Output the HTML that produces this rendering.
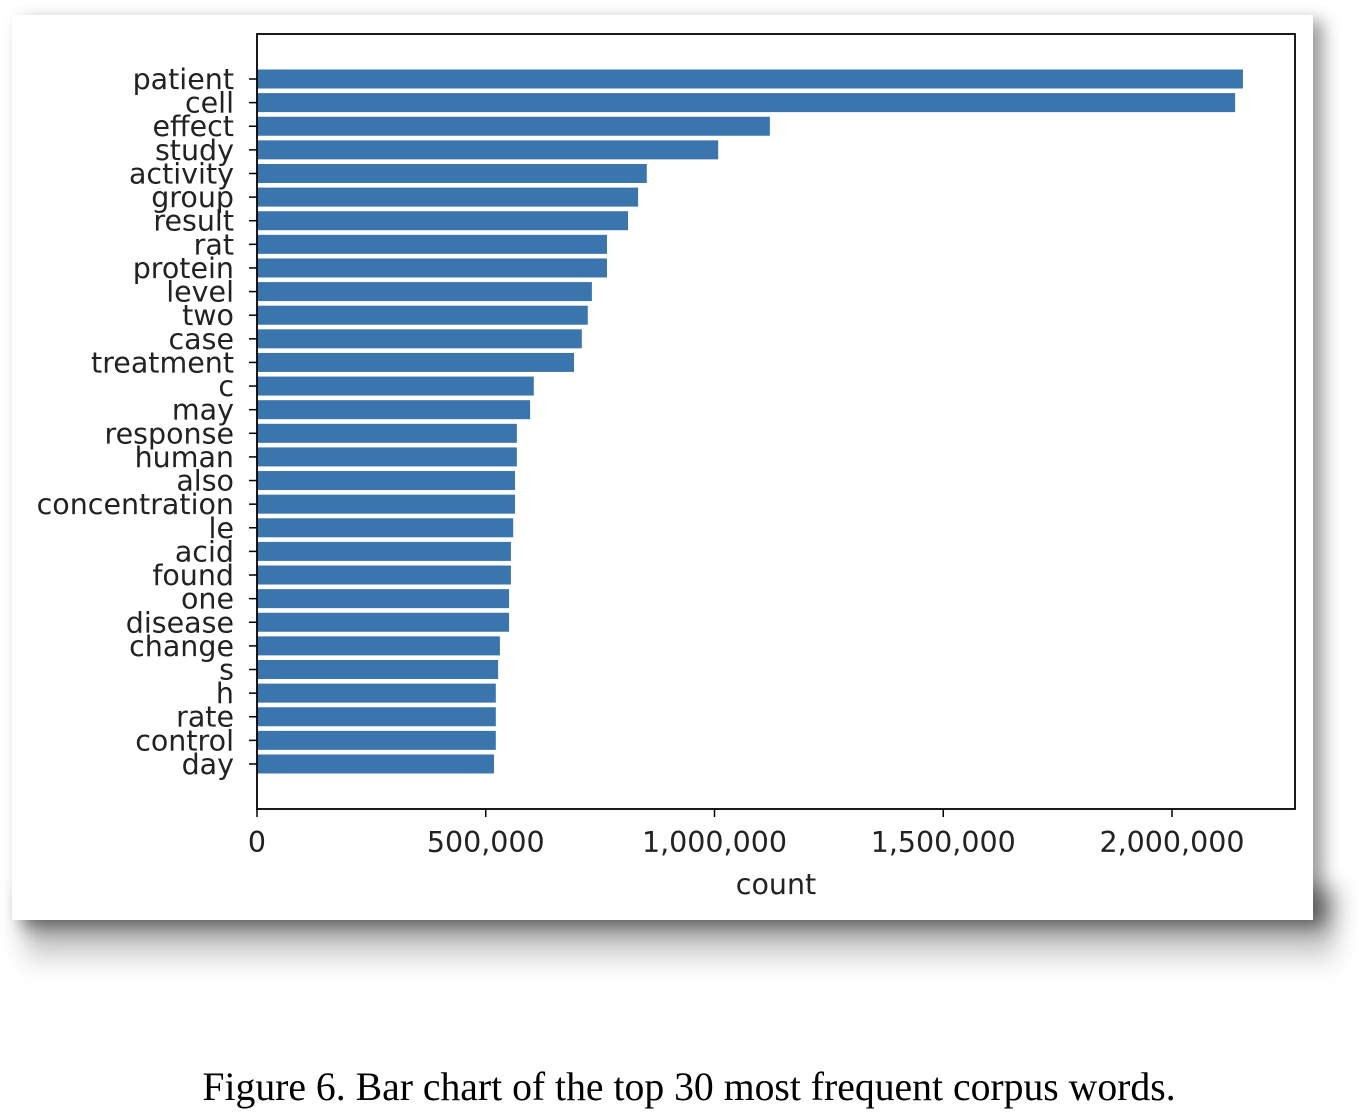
<!DOCTYPE html>
<html><head><meta charset="utf-8"><style>
body{margin:0;width:1360px;height:1118px;background:#fff;position:relative;overflow:hidden}
#shadow{position:absolute;left:25px;top:890px;width:1310px;height:80px;background:linear-gradient(#777,#aaa 45%,#fff);filter:blur(12px)}
#card{position:absolute;left:12px;top:15px;width:1301px;height:905px;background:#fff;box-shadow:10px 6px 16px rgba(0,0,0,0.4)}
svg{position:absolute;left:0;top:0}
#cap{position:absolute;left:0;width:1378px;top:1064px;text-align:center;font-family:"Liberation Serif",serif;font-size:39.7px;color:#000}
</style></head><body>
<div id="shadow"></div>
<div id="card"></div>
<svg id="chart" width="1360" height="1118"></svg>
<div id="cap">Figure 6. Bar chart of the top 30 most frequent corpus words.</div>
<script>
const categories=["patient","cell","effect","study","activity","group","result","rat","protein","level","two","case","treatment","c","may","response","human","also","concentration","le","acid","found","one","disease","change","s","h","rate","control","day"];
const counts=[2155000,2138000,1121000,1008000,852000,833000,811000,765000,765000,732000,723000,710000,693000,605000,597000,568000,568000,564000,564000,560000,555000,555000,551000,551000,531000,527000,522000,522000,522000,518000];
const xTicks=[0,500000,1000000,1500000,2000000];
const xTickLabels=["0","500,000","1,000,000","1,500,000","2,000,000"];
const NS="http://www.w3.org/2000/svg",svg=document.getElementById('chart');
const L=257,R=1295,T=34,B=809;
const x=v=>L+v*(457.5/1e6);
const y=i=>79+i*23.62;
const bh=19;
function el(t,a){const e=document.createElementNS(NS,t);for(const k in a)e.setAttribute(k,a[k]);svg.appendChild(e);return e;}
const font='"DejaVu Sans","Liberation Sans",sans-serif';
categories.forEach((c,i)=>{
 const r=el('rect',{x:L,y:y(i)-bh/2,width:x(counts[i])-L,height:bh,fill:'#3a75ae'});
 
 
 const tk=el('line',{x1:L-8,x2:L,y1:y(i),y2:y(i),stroke:'#000','stroke-width':1.5});
 
 
 const t=el('text',{x:L-23,y:y(i)+10,'text-anchor':'end','font-family':font,'font-size':28.5,fill:'#222'});
 t.textContent=c;
 
 
});
xTicks.forEach((v,i)=>{
 const tk=el('line',{x1:x(v),x2:x(v),y1:B,y2:B+8,stroke:'#000','stroke-width':1.5});
 
 
 const t=el('text',{x:x(v),y:B+43,'text-anchor':'middle','font-family':font,'font-size':28.5,fill:'#222'});
 t.textContent=xTickLabels[i];
 
 
});
const fr=el('rect',{x:L,y:T,width:R-L,height:B-T,fill:'none',stroke:'#000','stroke-width':1.8});


const xl=el('text',{x:(L+R)/2,y:894,'text-anchor':'middle','font-family':font,'font-size':28.5,fill:'#222'});
xl.textContent='count';


</script>
</body></html>
